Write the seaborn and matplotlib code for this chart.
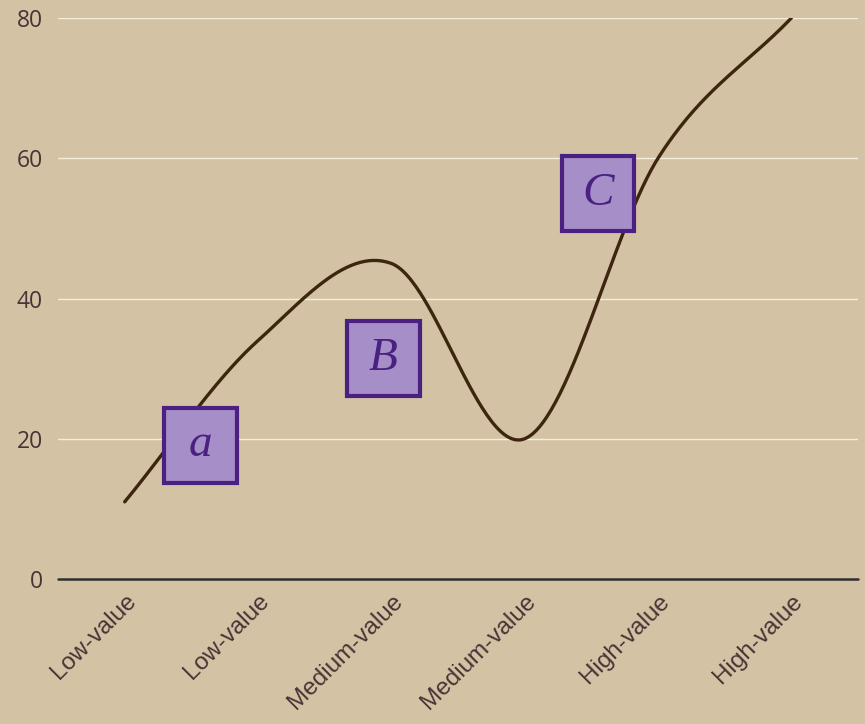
import numpy as np
import pandas as pd
import seaborn as sns
import matplotlib.pyplot as plt
from matplotlib.patches import Rectangle

# datos
categorias = ["Low-value", "Low-value", "Medium-value", "Medium-value", "High-value", "High-value"]
valores = [11, 34, 45, 20, 60, 80]
y_ticks = [0, 20, 40, 60, 80]

# anotaciones (posicion x en categorias, y en valor, letra)
notas_x = [0.57, 1.94, 3.55]
notas_y = [19.1, 31.4, 55.0]
notas_txt = ["a", "B", "C"]


def catmull_rom(y, n=60):
    # curva suave que pasa por los puntos (tipo spline cardinal)
    y = np.asarray(y, dtype=float)
    m = np.zeros_like(y)
    m[1:-1] = (y[2:] - y[:-2]) / 2
    m[0] = y[1] - y[0]
    m[-1] = y[-1] - y[-2]
    xs, ys = [], []
    for i in range(len(y) - 1):
        t = np.linspace(0, 1, n, endpoint=False)
        h00 = 2 * t**3 - 3 * t**2 + 1
        h10 = t**3 - 2 * t**2 + t
        h01 = -2 * t**3 + 3 * t**2
        h11 = t**3 - t**2
        xs.append(i + t)
        ys.append(h00 * y[i] + h10 * m[i] + h01 * y[i + 1] + h11 * m[i + 1])
    xs.append([len(y) - 1])
    ys.append([y[-1]])
    return np.concatenate(xs), np.concatenate(ys)


sns.set_style("white")
fondo = "#d3c3a4"

fig = plt.figure(figsize=(8.65, 7.24), dpi=100)
fig.patch.set_facecolor(fondo)
ax = fig.add_axes([58 / 865, 1 - 579 / 724, 800 / 865, 561 / 724])
ax.set_facecolor(fondo)

xs, ys = catmull_rom(valores)
curva = pd.DataFrame({"x": xs, "y": ys})
sns.lineplot(data=curva, x="x", y="y", ax=ax, color="#3e2510", linewidth=2.4,
             sort=False, zorder=3)

ax.set_xlim(-0.5, 5.5)
ax.set_ylim(0, 80)
ax.set_yticks(y_ticks)
ax.set_xticks(range(len(categorias)))
ax.set_xticklabels(categorias, rotation=45, ha="right", rotation_mode="anchor",
                   fontsize=17.5, color="#4b3236", family="Liberation Sans")
for lab in ax.get_yticklabels():
    lab.set_fontsize(16.5)
    lab.set_color("#4b3236")
    lab.set_family("Open Sans")
ax.tick_params(axis="both", length=0)
ax.tick_params(axis="y", pad=11)
ax.tick_params(axis="x", pad=8)
ax.set_xlabel("")
ax.set_ylabel("")

for y in y_ticks[1:]:
    ax.axhline(y, color="#f3efdc", linewidth=1.0, zorder=1)
ax.axhline(0, color="#2f2f2f", linewidth=1.8, zorder=2, clip_on=False)

for s in ax.spines.values():
    s.set_visible(False)

# cajas con letras
ancho = 73 / 133.4
alto = 75 / 7.01
for x, y, t in zip(notas_x, notas_y, notas_txt):
    ax.add_patch(Rectangle((x - ancho / 2, y - alto / 2), ancho, alto,
                           facecolor="#a68fc9", edgecolor="#4a2180",
                           linewidth=3, zorder=4))
    ax.text(x, y, t, ha="center", va="center", fontsize=34, style="italic",
            family="Liberation Serif", color="#4a2180", zorder=5)

plt.savefig("out.png", dpi=100, facecolor=fondo)
plt.close()
